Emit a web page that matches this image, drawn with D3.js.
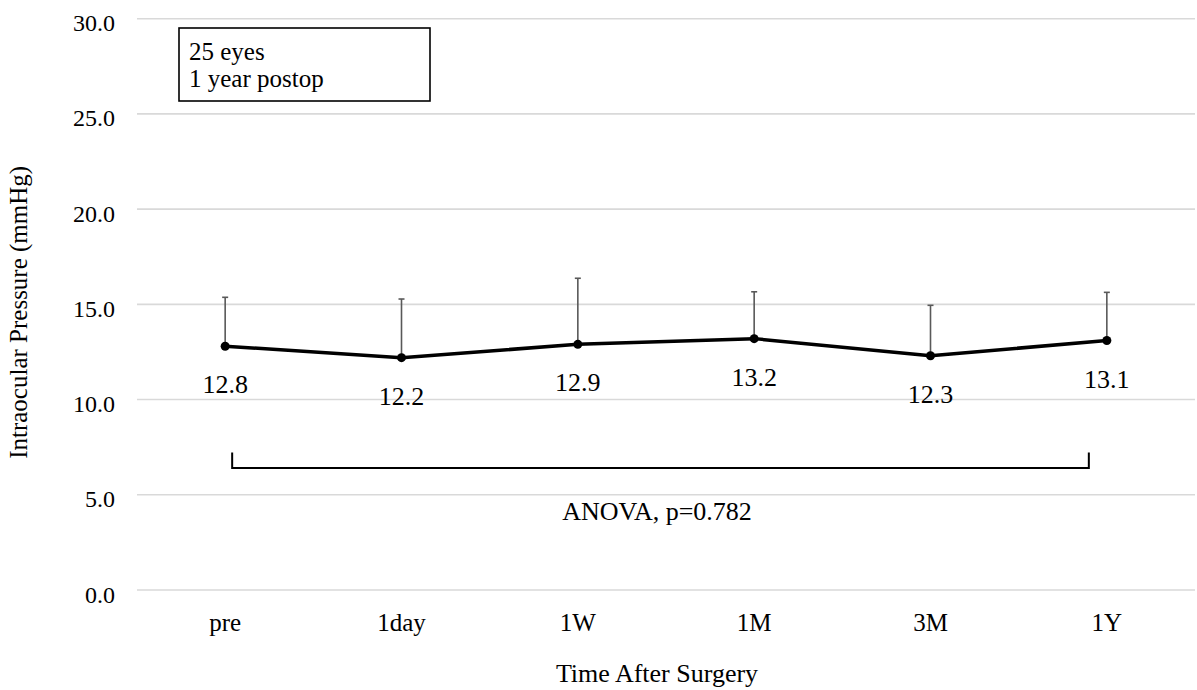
<!DOCTYPE html>
<html>
<head>
<meta charset="utf-8">
<script src="https://cdn.jsdelivr.net/npm/d3@7"></script>
<style>
  html, body { margin: 0; padding: 0; background: #fff; }
  svg { display: block; }
  svg text { font-family: "Liberation Serif", "Times New Roman", serif; fill: #000; }
</style>
</head>
<body>
<svg id="chart" width="1197" height="690"></svg>
<script>
// ---- data ----
const categories = ["pre", "1day", "1W", "1M", "3M", "1Y"];
const meanIOP = [12.8, 12.2, 12.9, 13.2, 12.3, 13.1];
const sdIOP = [2.57, 3.08, 3.47, 2.46, 2.65, 2.53];
const yTicks = [0, 5, 10, 15, 20, 25, 30];
const infoLines = ["25 eyes", "1 year postop"];
const statText = "ANOVA, p=0.782";
const yTitle = "Intraocular Pressure (mmHg)";
const xTitle = "Time After Surgery";

// ---- layout ----
const plot = { left: 137, right: 1195, top: 18.7, bottom: 590 };
const svg = d3.select("#chart");
const FONT = "Liberation Serif";

const x = d3.scaleBand().domain(categories).range([plot.left, plot.right]).paddingInner(0).paddingOuter(0);
const xc = d => x(d) + x.bandwidth() / 2;
const y = d3.scaleLinear().domain([0, 30]).range([plot.bottom, plot.top]);

// gridlines
svg.append("g").selectAll("line").data(yTicks).join("line")
  .attr("x1", plot.left).attr("x2", plot.right)
  .attr("y1", d => y(d)).attr("y2", d => y(d))
  .attr("stroke", "#d9d9d9").attr("stroke-width", 1.6);

// y-axis tick labels via axis
const yAxis = svg.append("g").attr("transform", `translate(${plot.left},0)`)
  .call(d3.axisLeft(y).tickValues(yTicks).tickFormat(d3.format(".1f")).tickSize(0).tickPadding(22))
  .attr("font-family", FONT).attr("font-size", 24);
yAxis.select(".domain").remove();
yAxis.selectAll("text").attr("font-size", 24).attr("font-family", FONT)
  .attr("fill", "#000").attr("dy", "0.5em");

// x-axis labels via axis
const xAxis = svg.append("g").attr("transform", `translate(0,${plot.bottom})`)
  .call(d3.axisBottom(x).tickSize(0).tickPadding(22))
  .attr("font-family", FONT).attr("font-size", 25);
xAxis.select(".domain").remove();
xAxis.selectAll("text").attr("font-size", 25).attr("font-family", FONT)
  .attr("fill", "#000").attr("dy", "0.75em");

// axis titles
svg.append("text")
  .attr("transform", `translate(27,${(y(0) + y(30)) / 2 + 8}) rotate(-90)`)
  .attr("text-anchor", "middle").attr("font-family", FONT).attr("font-size", 25).text(yTitle);
svg.append("text")
  .attr("x", 657).attr("y", 682)
  .attr("text-anchor", "middle").attr("font-family", FONT).attr("font-size", 26).text(xTitle);

// error bars (upper only)
const rows = categories.map((c, i) => ({ c, m: meanIOP[i], sd: sdIOP[i] }));
const eb = svg.append("g").attr("stroke", "#595959").attr("stroke-width", 1.6);
eb.selectAll("line.v").data(rows).join("line").attr("class", "v")
  .attr("x1", d => xc(d.c)).attr("x2", d => xc(d.c))
  .attr("y1", d => y(d.m)).attr("y2", d => y(d.m + d.sd));
eb.selectAll("line.cap").data(rows).join("line").attr("class", "cap")
  .attr("x1", d => xc(d.c) - 3).attr("x2", d => xc(d.c) + 3)
  .attr("y1", d => y(d.m + d.sd)).attr("y2", d => y(d.m + d.sd));

// line
svg.append("path").datum(rows)
  .attr("fill", "none").attr("stroke", "#000").attr("stroke-width", 3.5)
  .attr("stroke-linejoin", "round")
  .attr("d", d3.line().x(d => xc(d.c)).y(d => y(d.m)));

// markers
svg.append("g").selectAll("circle").data(rows).join("circle")
  .attr("cx", d => xc(d.c)).attr("cy", d => y(d.m)).attr("r", 4.5).attr("fill", "#000");

// data labels
svg.append("g").selectAll("text").data(rows).join("text")
  .attr("x", d => xc(d.c)).attr("y", d => y(d.m) + 47)
  .attr("text-anchor", "middle").attr("font-family", FONT).attr("font-size", 26)
  .text(d => d3.format(".1f")(d.m));

// info box
const box = svg.append("g");
box.append("rect").attr("x", 179).attr("y", 28).attr("width", 251).attr("height", 73)
  .attr("fill", "#fff").attr("stroke", "#000").attr("stroke-width", 1.6);
box.selectAll("text").data(infoLines).join("text")
  .attr("x", 189).attr("y", (d, i) => 60 + i * 27)
  .attr("font-family", FONT).attr("font-size", 25).text(d => d);

// ANOVA bracket
const bx1 = xc(categories[0]) + 7, bx2 = xc(categories[categories.length - 1]) - 18;
svg.append("path")
  .attr("d", `M${bx1},452.5 V468 H${bx2} V452.5`)
  .attr("fill", "none").attr("stroke", "#000").attr("stroke-width", 2);
svg.append("text").attr("x", 657).attr("y", 520)
  .attr("text-anchor", "middle").attr("font-family", FONT).attr("font-size", 26).text(statText);
</script>
</body>
</html>
